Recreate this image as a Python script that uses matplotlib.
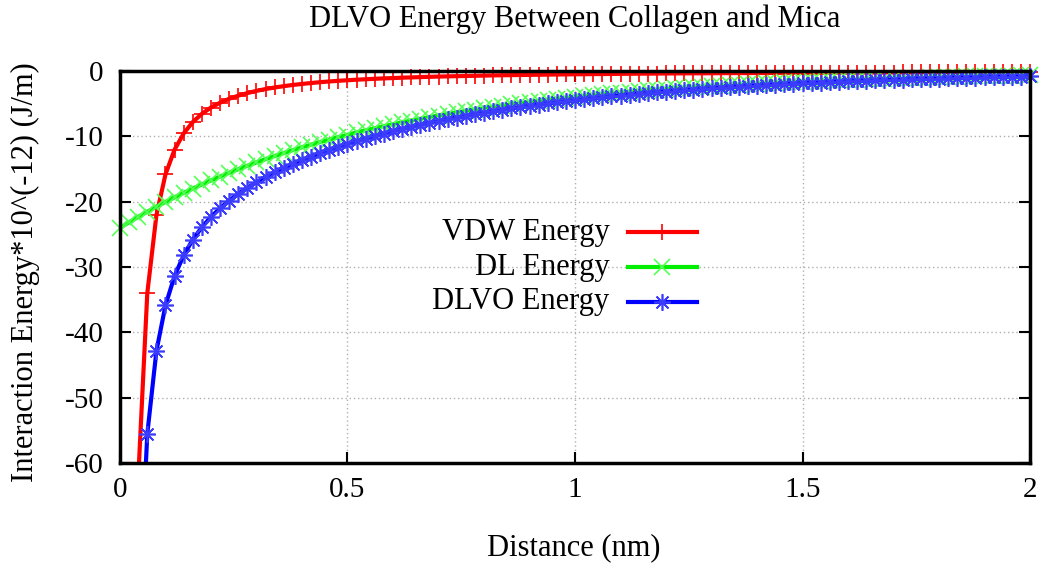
import numpy as np
import matplotlib.pyplot as plt
from matplotlib.lines import Line2D

plt.rcParams['font.family'] = ['Liberation Serif', 'DejaVu Serif']
plt.rcParams['axes.unicode_minus'] = False

# distance grid (nm), one sample every 0.02
distance = np.linspace(0, 2, 101)

# DL energy (starts at distance 0)
dl_energy = [
    -24.00, -23.15, -22.33, -21.54, -20.78, -20.05, -19.34, -18.65, -17.99, -17.36,
    -16.74, -16.15, -15.58, -15.03, -14.50, -13.99, -13.49, -13.01, -12.55, -12.11,
    -11.68, -11.27, -10.87, -10.49, -10.12, -9.76, -9.41, -9.08, -8.76, -8.45,
    -8.15, -7.86, -7.58, -7.32, -7.06, -6.81, -6.57, -6.34, -6.11, -5.90,
    -5.69, -5.49, -5.29, -5.10, -4.92, -4.75, -4.58, -4.42, -4.26, -4.11,
    -3.97, -3.83, -3.69, -3.56, -3.44, -3.31, -3.20, -3.08, -2.97, -2.87,
    -2.77, -2.67, -2.58, -2.48, -2.40, -2.31, -2.23, -2.15, -2.08, -2.00,
    -1.93, -1.86, -1.80, -1.73, -1.67, -1.61, -1.56, -1.50, -1.45, -1.40,
    -1.35, -1.30, -1.25, -1.21, -1.17, -1.13, -1.09, -1.05, -1.01, -0.97,
    -0.94, -0.91, -0.88, -0.84, -0.81, -0.79, -0.76, -0.73, -0.71, -0.68,
    -0.66,
]

# VDW energy, red curve (starts at distance 0.02)
vdw_energy = [
    -176.8, -62.50, -34.02, -22.10, -15.81, -12.03, -9.55, -7.81, -6.55, -5.59,
    -4.85, -4.25, -3.77, -3.38, -3.04, -2.76, -2.52, -2.32, -2.13, -1.98,
    -1.84, -1.71, -1.60, -1.50, -1.41, -1.33, -1.26, -1.19, -1.13, -1.08,
    -1.02, -0.98, -0.93, -0.89, -0.85, -0.82, -0.79, -0.76, -0.73, -0.70,
    -0.67, -0.65, -0.63, -0.61, -0.59, -0.57, -0.55, -0.53, -0.52, -0.50,
    -0.49, -0.47, -0.46, -0.45, -0.43, -0.42, -0.41, -0.40, -0.39, -0.38,
    -0.37, -0.36, -0.35, -0.35, -0.34, -0.33, -0.32, -0.32, -0.31, -0.30,
    -0.30, -0.29, -0.28, -0.28, -0.27, -0.27, -0.26, -0.26, -0.25, -0.25,
    -0.24, -0.24, -0.23, -0.23, -0.23, -0.22, -0.22, -0.21, -0.21, -0.21,
    -0.20, -0.20, -0.20, -0.19, -0.19, -0.19, -0.18, -0.18, -0.18, -0.18,
]

# DLVO energy, blue curve (starts at distance 0.02)
dlvo_energy = [
    -200.0, -84.83, -55.56, -42.88, -35.86, -31.37, -28.20, -25.80, -23.91, -22.33,
    -21.00, -19.83, -18.80, -17.88, -17.03, -16.25, -15.53, -14.87, -14.24, -13.66,
    -13.11, -12.58, -12.09, -11.62, -11.17, -10.74, -10.34, -9.95, -9.58, -9.23,
    -8.88, -8.56, -8.25, -7.95, -7.66, -7.39, -7.13, -6.87, -6.63, -6.39,
    -6.16, -5.94, -5.73, -5.53, -5.34, -5.15, -4.97, -4.79, -4.63, -4.47,
    -4.31, -4.16, -4.02, -3.88, -3.75, -3.62, -3.49, -3.37, -3.26, -3.15,
    -3.04, -2.94, -2.84, -2.74, -2.65, -2.56, -2.47, -2.39, -2.31, -2.23,
    -2.16, -2.09, -2.02, -1.95, -1.89, -1.82, -1.76, -1.71, -1.65, -1.59,
    -1.54, -1.49, -1.44, -1.40, -1.35, -1.31, -1.27, -1.22, -1.19, -1.15,
    -1.11, -1.08, -1.04, -1.01, -0.98, -0.95, -0.92, -0.89, -0.86, -0.83,
]

xticks = [0, 0.5, 1, 1.5, 2]
xtick_labels = ['0', '0.5', '1', '1.5', '2']
yticks = [0, -10, -20, -30, -40, -50, -60]

series = [
    ('VDW Energy', distance[1:], vdw_energy, '#ff0000', '#ff0000', '+'),
    ('DL Energy', distance, dl_energy, '#00ee00', '#55ff55', 'x'),
    ('DLVO Energy', distance[1:], dlvo_energy, '#0000ff', '#3c3cff', (8, 2, 0)),
]

YMIN, YMAX = -60, 0
FS = 21

fig = plt.figure(figsize=(10.47, 5.69), dpi=100)
ax = fig.add_axes([0.1146, 0.1863, 0.8692, 0.6889])

for i, (name, x, y, lc, mc, mk) in enumerate(series):
    y = np.asarray(y)
    ax.plot(x, y, color=lc, lw=3, zorder=2 + i)
    # points outside the y range are not drawn, like gnuplot
    ym = np.where(y < YMIN, np.nan, y)
    ax.plot(x, ym, ls='none', marker=mk, ms=12, mew=1.2, color=mc,
            clip_on=False, zorder=2 + i)

ax.set_xlim(0, 2)
ax.set_ylim(YMIN, YMAX)
ax.set_xticks(xticks)
ax.set_xticklabels(xtick_labels)
ax.set_yticks(yticks)
ax.tick_params(direction='in', length=8, width=1.5, labelsize=FS,
               top=True, right=True)
ax.tick_params(axis='x', pad=10)
ax.tick_params(axis='y', pad=12)
ax.grid(True, color='#b0b0b0', ls=(0, (1, 2)), lw=1)
for sp in ax.spines.values():
    sp.set_linewidth(2.5)
    sp.set_zorder(10)

fig.text(0.549, 0.966, 'DLVO Energy Between Collagen and Mica', ha='center',
         va='center', fontsize=22)
fig.text(0.548, 0.037, 'Distance (nm)', ha='center', va='center', fontsize=22)
fig.text(0.024, 0.522, 'Interaction Energy*10^(-12) (J/m)', ha='center',
         va='center', rotation=90, fontsize=22)

# gnuplot style key: right-aligned text, sample to its right
key_y = [0.589, 0.500, 0.411]
for (name, x, y, lc, mc, mk), ky in zip(series, key_y):
    ax.text(0.538, ky, name, transform=ax.transAxes, ha='right', va='center',
            fontsize=22)
    ax.add_line(Line2D([0.558, 0.634], [ky, ky], transform=ax.transAxes,
                       color=lc, lw=3, zorder=11))
    ax.add_line(Line2D([0.596], [ky], transform=ax.transAxes, ls='none',
                       marker=mk, ms=12, mew=1.2, color=mc, zorder=12))

fig.savefig('out.png', dpi=100)
